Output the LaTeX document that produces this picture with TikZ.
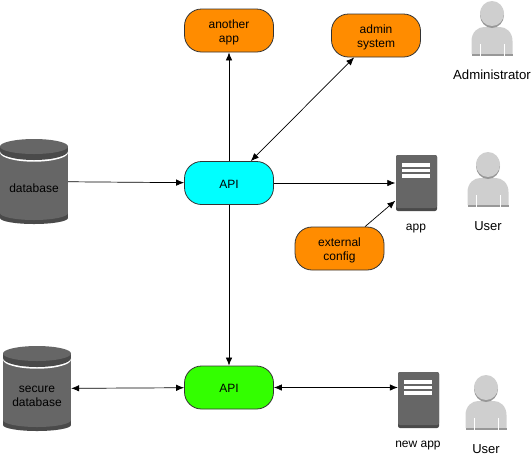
\documentclass[tikz,border=0pt]{standalone}
\usepackage{fontspec}
\setmainfont{Liberation Sans}
\usetikzlibrary{arrows.meta}
\definecolor{appfill}{HTML}{FF8C00}
\definecolor{apifill}{HTML}{00FFFF}
\definecolor{secureapifill}{HTML}{33FF00}
\definecolor{iconbody}{HTML}{666666}
\definecolor{icondark}{HTML}{4A4A4A}
\definecolor{personlight}{HTML}{CFCFCF}
\definecolor{persondark}{HTML}{989898}
\tikzset{
  >={Latex[length=8pt,width=6.5pt]},
  appbox/.style={draw=black!80, line width=0.8pt, rounded corners=17pt, minimum width=89pt,
    minimum height=43pt, inner sep=0pt, align=center, font=\fontsize{12}{14}\selectfont,
    text height=24.2pt, text depth=0pt},
  oneline/.style={text height=10.2pt, text depth=0pt},
  ghost/.style={inner sep=0pt},
  caption/.style={inner sep=0pt, align=center, font=\fontsize{12}{14}\selectfont},
  dbicon/.pic={
    \fill[icondark] (0,70) rectangle (68,79);
    \fill[icondark] (34,79) ellipse (34 and 6);
    \fill[iconbody] (0,14) rectangle (68,74);
    \fill[iconbody] (34,74) ellipse (34 and 7);
    \fill[white] (34,13.5) ellipse (34 and 9.2);
    \fill[icondark] (0,8) rectangle (68,12);
    \fill[icondark] (34,12) ellipse (34 and 9);
    \fill[iconbody] (34,7.5) ellipse (34 and 7.5);
  },
  servericon/.pic={
    \fill[icondark, rounded corners=2pt] (0,0) rectangle (41,56);
    \fill[iconbody, rounded corners=2pt] (0,0) rectangle (41,53);
    \fill[white] (6,8.3) rectangle (34.3,11.7);
    \fill[white] (6,14) rectangle (34.3,17.3);
    \fill[white] (6,19.3) rectangle (34.3,22.7);
  },
  personicon/.pic={
    \fill[personlight] (-20.5,53) -- (-20.5,40) .. controls (-20.5,31) and (-14,26) .. (-8,26)
      -- (8,26) .. controls (14,26) and (20.5,31) .. (20.5,40) -- (20.5,53) -- cycle;
    \fill[persondark] (-20.5,52.5) rectangle (20.5,55);
    \fill[persondark] (0,14) ellipse (12 and 13);
    \fill[personlight] (0,12.5) ellipse (12 and 12.5);
    \fill[white] (-12.2,43) rectangle (-11.7,55);
    \fill[white] (11.7,43) rectangle (12.2,55);
  }
}
\begin{document}
\begin{tikzpicture}[x=1pt,y=-1pt]
  \useasboundingbox (0,0) rectangle (532,467);
  % icons
  \pic at (0,139) {dbicon};
  \pic at (3,346) {dbicon};
  \pic at (396,155) {servericon};
  \pic at (398,372) {servericon};
  \pic at (492,1) {personicon};
  \pic at (488,152) {personicon};
  \pic at (486,375) {personicon};
  % nodes
  \node[appbox, fill=appfill] (anotherapp) at (229,30.5) {another\\app};
  \node[appbox, fill=appfill] (adminsystem) at (376,35.5) {admin\\system};
  \node[appbox, oneline, fill=apifill] (api) at (229,183) {API};
  \node[appbox, fill=appfill] (externalconfig) at (339.5,248.5) {external\\config};
  \node[appbox, oneline, fill=secureapifill] (secureapi) at (229,387.5) {API};
  \node[ghost, minimum width=68pt, minimum height=85pt] (database) at (34,181.5) {};
  \node[ghost, minimum width=68pt, minimum height=85pt] (securedatabase) at (37,388.5) {};
  \node[ghost, minimum width=41pt, minimum height=56pt] (app) at (416,183) {};
  \node[ghost, minimum width=41pt, minimum height=56pt] (newapp) at (418.5,400) {};
  % texts
  \node[caption] (databasetext) at (34,188) {database};
  \node[caption] (securedatabasetext) at (37,396) {secure\\database};
  \node[caption] (apptext) at (416,229) {app};
  \node[caption] (newapptext) at (418,446) {new app};
  \node[caption, font=\fontsize{13.2}{15}\selectfont] (admintext) at (492,75) {Administrator};
  \node[caption, font=\fontsize{13}{15}\selectfont] (usertext) at (488,226) {User};
  \node[caption, font=\fontsize{13}{15}\selectfont] (newusertext) at (486,449) {User};
  % connectors
  \begin{scope}[->, line width=0.7pt]
    \draw (database) to (api);
    \draw (api) to (anotherapp);
    \draw (api) to (app);
    \draw (api) to (secureapi);
    \draw (externalconfig) to (app);
  \end{scope}
  \begin{scope}[<->, line width=0.7pt]
    \draw (api) to (adminsystem);
    \draw (securedatabase) to (secureapi);
    \draw (secureapi) to (newapp.west |- secureapi);
  \end{scope}
\end{tikzpicture}
\end{document}
